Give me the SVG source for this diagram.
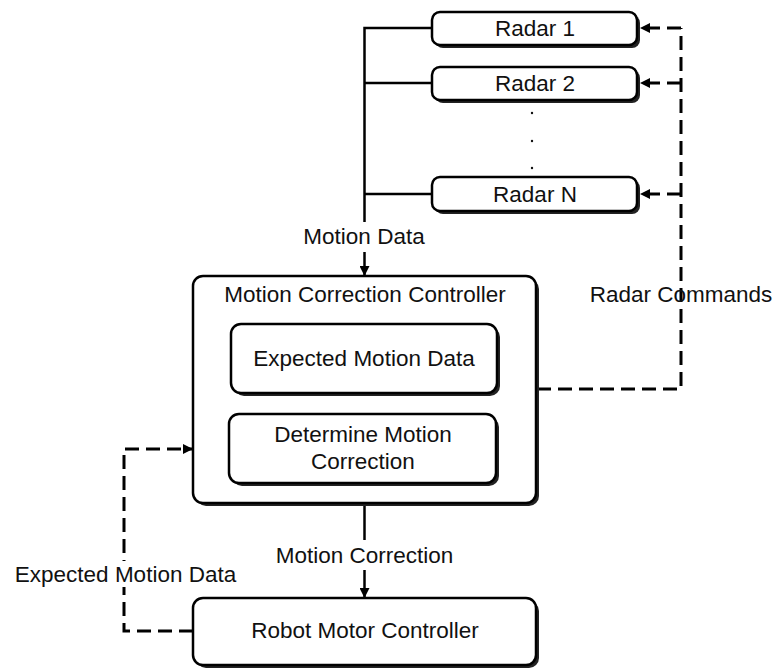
<svg xmlns="http://www.w3.org/2000/svg" width="775" height="669" viewBox="0 0 775 669">
  <style>
    text { font-family: "Liberation Sans", Arial, sans-serif; font-size: 22.5px; fill: #111; text-anchor: middle; }
    .box { fill: #fff; stroke: #000; stroke-width: 2.5; }
    .shadow { fill: #222; }
    .solid { fill: none; stroke: #000; stroke-width: 2.5; }
    .dash { fill: none; stroke: #000; stroke-width: 3; stroke-dasharray: 14 7; }
    .lblbg { fill: #fff; }
  </style>
  <defs>
    <marker id="arrow" viewBox="0 0 10 10" refX="10" refY="5" markerWidth="10" markerHeight="10" markerUnits="userSpaceOnUse" orient="auto">
      <path d="M0,0 L10,5 L0,10 z" fill="#000"/>
    </marker>
  </defs>
  <rect width="775" height="669" fill="#fff"/>

  <!-- connectors -->
  <g id="connectors">
    <!-- radar data bus -->
    <path class="solid" d="M432,28 H364.5 V222 M364.5,194 H432 M364.5,83 H432"/>
    <path class="solid" d="M364.5,252 V276" marker-end="url(#arrow)"/>
    <text x="364" y="244">Motion Data</text>

    <!-- radar commands -->
    <path class="dash" d="M537,389 H681 V28"/>
    <path class="dash" d="M681,28 H640" marker-end="url(#arrow)"/>
    <path class="dash" d="M681,83 H640" marker-end="url(#arrow)"/>
    <path class="dash" d="M681,194 H640" marker-end="url(#arrow)"/>
    <text x="681" y="302">Radar Commands</text>

    <!-- motion correction -->
    <path class="solid" d="M364.5,503 V540"/>
    <path class="solid" d="M364.5,570 V598" marker-end="url(#arrow)"/>
    <text x="364.5" y="563">Motion Correction</text>

    <!-- expected motion data feedback -->
    <path class="dash" d="M193,631 H124 V449 H193" marker-end="url(#arrow)"/>
    <rect class="lblbg" x="12" y="561" width="228" height="26"/>
    <text x="125.5" y="582">Expected Motion Data</text>
  </g>

  <!-- radars -->
  <g id="radar1">
    <rect class="shadow" x="435" y="15" width="205" height="33" rx="8"/>
    <rect class="box" x="432" y="12" width="205" height="33" rx="8"/>
    <text x="535" y="36">Radar 1</text>
  </g>
  <g id="radar2">
    <rect class="shadow" x="435" y="70" width="205" height="33" rx="8"/>
    <rect class="box" x="432" y="67" width="205" height="33" rx="8"/>
    <text x="535" y="91">Radar 2</text>
  </g>
  <g id="radar-dots">
    <circle cx="532" cy="113" r="1.2" fill="#111"/>
    <circle cx="532" cy="141" r="1.2" fill="#111"/>
    <circle cx="532" cy="168" r="1.2" fill="#111"/>
  </g>
  <g id="radarN">
    <rect class="shadow" x="435" y="180" width="205" height="34" rx="8"/>
    <rect class="box" x="432" y="177" width="205" height="34" rx="8"/>
    <text x="535" y="202">Radar N</text>
  </g>

  <!-- motion correction controller -->
  <g id="controller">
    <rect class="shadow" x="196" y="279" width="343" height="227" rx="10"/>
    <rect class="box" x="193" y="276" width="343" height="227" rx="10"/>
    <text x="365" y="302">Motion Correction Controller</text>
  </g>
  <g id="expected-motion-data">
    <rect class="shadow" x="234" y="327" width="266" height="69" rx="10"/>
    <rect class="box" x="231" y="324" width="266" height="69" rx="10"/>
    <text x="364" y="366">Expected Motion Data</text>
  </g>
  <g id="determine-motion-correction">
    <rect class="shadow" x="232" y="417" width="267" height="69" rx="10"/>
    <rect class="box" x="229" y="414" width="267" height="69" rx="10"/>
    <text x="363" y="442">Determine Motion</text>
    <text x="363" y="469">Correction</text>
  </g>

  <!-- robot motor controller -->
  <g id="robot-motor-controller">
    <rect class="shadow" x="196" y="601" width="343" height="67" rx="10"/>
    <rect class="box" x="193" y="598" width="343" height="67" rx="10"/>
    <text x="365" y="638">Robot Motor Controller</text>
  </g>
</svg>
